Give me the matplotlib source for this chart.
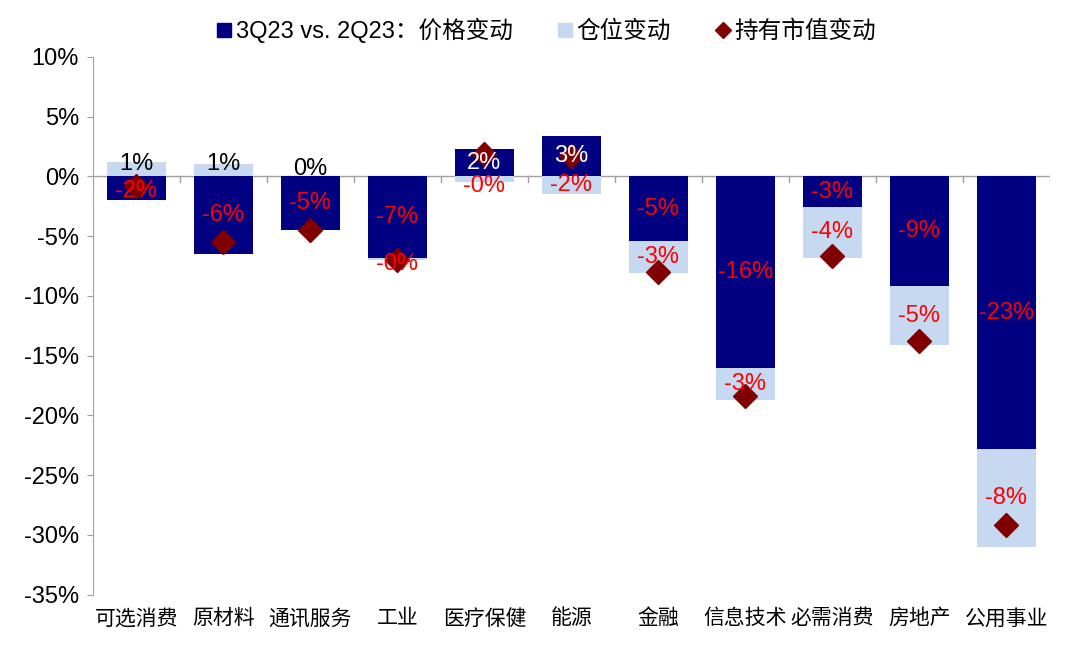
import matplotlib
matplotlib.use("Agg")
import matplotlib.pyplot as plt
from matplotlib.lines import Line2D
import numpy as np

plt.rcParams['font.family'] = ['Liberation Sans', 'Noto Sans CJK SC', 'DejaVu Sans']

categories = ['可选消费', '原材料', '通讯服务', '工业', '医疗保健', '能源',
              '金融', '信息技术', '必需消费', '房地产', '公用事业']
price_change = [-2.0, -6.5, -4.5, -6.8, 2.3, 3.4, -5.4, -16.0, -2.6, -9.2, -22.8]
position_change = [1.2, 1.0, 0.0, -0.2, -0.5, -1.5, -2.7, -2.7, -4.2, -4.9, -8.2]
holding_change = [-0.8, -5.5, -4.5, -7.0, 1.9, 1.7, -8.0, -18.4, -6.7, -13.8, -29.2]

price_labels = ['-2%', '-6%', '-5%', '-7%', '2%', '3%', '-5%', '-16%', '-3%', '-9%', '-23%']
position_labels = ['1%', '1%', '0%', '-0%', '-0%', '-2%', '-3%', '-3%', '-4%', '-5%', '-8%']

legend_labels = ['3Q23 vs. 2Q23：价格变动', '仓位变动', '持有市值变动']
yticks = [10, 5, 0, -5, -10, -15, -20, -25, -30, -35]

navy = '#000080'
light = '#C6D9F0'
dred = '#800000'

fig = plt.figure(figsize=(10.8, 6.45), dpi=100)
ax = fig.add_axes([0.086, 0.078, 0.886, 0.834])

x = np.arange(len(categories))
w = 0.68
price = np.array(price_change)
pos = np.array(position_change)

pos_bottom = np.where(pos >= 0, np.where(price >= 0, price, 0.0), np.where(price < 0, price, 0.0))
ax.bar(x, price, width=w, color=navy, zorder=2)
ax.bar(x, pos, width=w, bottom=pos_bottom, color=light, zorder=2)
ax.plot(x, holding_change, linestyle='none', marker='D', markersize=12,
        color=dred, zorder=4)

for i in range(len(x)):
    pc = 'white' if price[i] > 0 else 'red'
    py = price[i] / 2
    if price[i] < 0 and abs(price[i]) < 2.5:
        py = -1.25
    ax.text(x[i], py, price_labels[i], ha='center', va='center',
            color=pc, fontsize=17, zorder=5)
    yc = pos_bottom[i] + pos[i] / 2
    if pos[i] >= 0:
        col = 'black'
        yc = max(yc, 0.6) + 0.4 if abs(pos[i]) > 0.5 else 0.6
    else:
        col = 'red'
        if abs(pos[i]) < 1.0:
            yc = pos_bottom[i] + pos[i] - 0.3
    ax.text(x[i], yc, position_labels[i], ha='center', va='center',
            color=col, fontsize=17, zorder=5)

ax.set_xlim(-0.5, len(x) - 0.5)
ax.set_ylim(-35, 10)
ax.set_yticks(yticks)
ax.set_yticklabels([f'{t}%' for t in yticks], fontsize=17)
ax.tick_params(axis='y', length=4, color='#A0A0A0', pad=6)
ax.set_xticks(x)
ax.set_xticklabels(categories, fontsize=15)
ax.tick_params(axis='x', length=0, pad=10)

for s in ['top', 'right', 'bottom']:
    ax.spines[s].set_visible(False)
ax.spines['left'].set_color('#A0A0A0')

ax.axhline(0, color='#A0A0A0', linewidth=1, zorder=1)
for b in np.arange(0.5, len(x) - 0.5, 1.0):
    ax.plot([b, b], [0, -0.45], color='#A0A0A0', linewidth=1, zorder=1)
ax.plot([len(x) - 0.5, len(x) - 0.5], [0, -0.45], color='#A0A0A0', linewidth=1, zorder=1)

handles = [Line2D([], [], linestyle='none', marker='s', markersize=10, color=navy),
           Line2D([], [], linestyle='none', marker='s', markersize=10, color=light),
           Line2D([], [], linestyle='none', marker='D', markersize=8, color=dred)]
fig.legend(handles, legend_labels, loc='upper center', bbox_to_anchor=(0.505, 1.005),
           ncol=3, frameon=False, fontsize=17, handletextpad=0.1, columnspacing=1.8,
           handlelength=0.8)

fig.savefig('out.png', dpi=100)
